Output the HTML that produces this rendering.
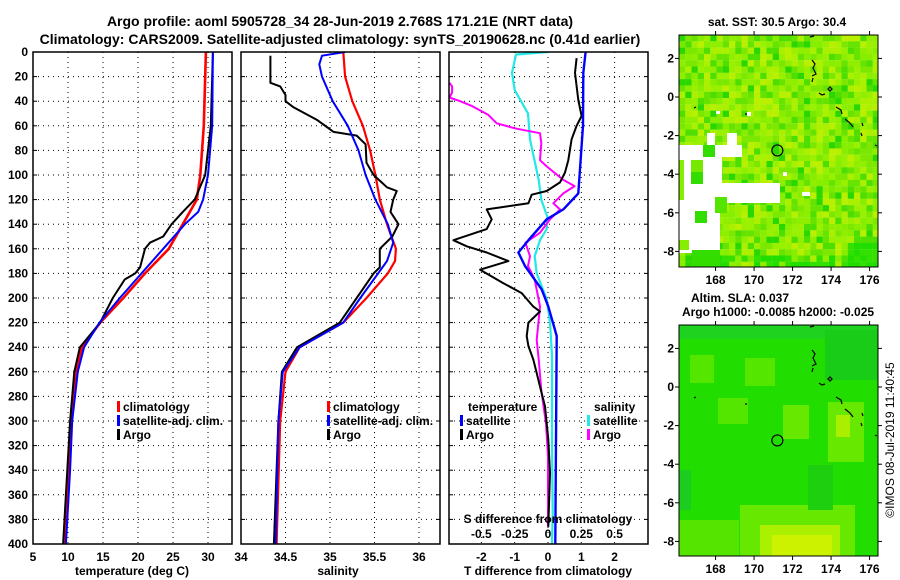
<!DOCTYPE html>
<html><head><meta charset="utf-8"><style>
body{margin:0;background:#fff;}
svg{display:block;font-family:"Liberation Sans",sans-serif;font-weight:bold;}
</style></head><body>
<svg id="fig" width="900" height="580" viewBox="0 0 900 580" xmlns="http://www.w3.org/2000/svg">
<defs>
<clipPath id="c1"><rect x="33" y="52" width="199" height="492"/></clipPath>
<clipPath id="c2"><rect x="241" y="52" width="199" height="492"/></clipPath>
<clipPath id="c3"><rect x="449" y="52" width="199" height="492"/></clipPath>
<clipPath id="m1"><rect x="679" y="35" width="199" height="232"/></clipPath>
<clipPath id="m2"><rect x="679" y="325" width="199" height="231"/></clipPath>
</defs>
<text x="340" y="26" font-size="14" text-anchor="middle">Argo profile: aoml 5905728_34 28-Jun-2019 2.768S 171.21E (NRT data)</text>
<text x="340" y="44" font-size="14" text-anchor="middle">Climatology: CARS2009. Satellite-adjusted climatology: synTS_20190628.nc (0.41d earlier)</text>
<g id="grid"></g>
<g id="lines"></g>
<g id="frames"></g>
<g id="labels" font-size="12"></g>
<g id="maps"></g>
<text x="777" y="26" font-size="12" text-anchor="middle">sat. SST: 30.5 Argo: 30.4</text>
<text x="740" y="302" font-size="12" text-anchor="middle">Altim. SLA: 0.037</text>
<text x="778" y="316" font-size="12" text-anchor="middle">Argo h1000: -0.0085 h2000: -0.025</text>
<text transform="translate(894,440) rotate(-90)" font-size="12" font-weight="normal" text-anchor="middle">©IMOS 08-Jul-2019 11:40:45</text>
</svg>
<script>
const depthTicks=[0,20,40,60,80,100,120,140,160,180,200,220,240,260,280,300,320,340,360,380,400];
const tempTicks=[5,10,15,20,25,30];
const salTicks=[34,34.5,35,35.5,36];
const tdiffTicks=[-2,-1,0,1,2];
const sdiffTicks=[-0.5,-0.25,0,0.25,0.5];
const sdiffLabels=["-0.5","-0.25","0","0.25","0.5"];

const tClimD=[0,60,100,120,140,160,180,200,220,240,260,280,300,340,400];
const tClimV=[29.7,29.4,28.9,28.4,26.4,24.4,21,17.9,14.6,12,11.1,10.7,10.4,10,9.6];
const tSatD=[0,60,100,120,130,140,160,180,200,220,240,260,300,340,400];
const tSatV=[30.7,30.6,30,29.3,28.6,26.7,23.6,20.5,17.4,14.5,12.3,11.4,10.6,10.3,9.7];
const tArgoD=[0,60,80,100,120,130,140,150,155,160,175,180,185,200,220,240,260,300,400];
const tArgoV=[30.7,30.4,30,29.6,28.1,26.4,24.8,23.6,21.7,21,20.3,19.6,18.1,16.4,14.6,11.7,10.9,10.3,9.3];

const sClimD=[0,20,40,60,80,100,120,140,160,170,180,200,220,240,260,300,400];
const sClimV=[35.15,35.17,35.25,35.37,35.45,35.51,35.56,35.64,35.74,35.73,35.65,35.41,35.15,34.66,34.5,34.44,34.4];
const sSatD=[0,3,10,20,40,60,80,100,120,140,155,170,180,200,220,240,260,300,400];
const sSatV=[35.17,34.91,34.88,34.91,35.03,35.2,35.32,35.4,35.51,35.65,35.71,35.64,35.54,35.34,35.15,34.66,34.47,34.42,34.39];
const sArgoD=[3,25,28,35,40,45,55,65,68,75,90,100,110,113,120,130,140,150,160,175,180,200,220,240,260,300,400];
const sArgoV=[34.33,34.33,34.44,34.5,34.5,34.59,34.85,35.04,35.3,35.4,35.41,35.49,35.64,35.75,35.71,35.68,35.77,35.7,35.56,35.56,35.49,35.3,35.11,34.63,34.46,34.42,34.37];

const dtSatD=[0,17,60,115,128,136,153,163,174,193,207,226,231,400];
const dtSatV=[1.13,1.06,1.05,0.91,0.46,-0.04,-0.59,-0.89,-0.69,-0.19,0.01,0.21,0.26,0.22];
const dtArgoD=[5,17,39,52,60,71,88,98,106,113,116,123,128,136,144,153,158,163,170,177,188,196,207,211,220,231,239,250,261,272,288,315,342,386];
const dtArgoV=[0.86,0.81,0.91,1.01,0.86,0.71,0.61,0.51,0.36,-0.04,-0.49,-0.59,-1.84,-1.69,-1.84,-2.84,-2.44,-1.84,-1.19,-2.04,-1.34,-0.79,-0.44,-0.24,-0.59,-0.64,-0.59,-0.44,-0.34,-0.24,-0.09,0.01,0.06,0.01];
const dsSatD=[0,2,17,31,50,71,104,120,134,144,153,166,180,201,220,247,315,375,400];
const dsSatV=[0.0,-0.24,-0.27,-0.25,-0.15,-0.135,-0.07,-0.05,-0.005,-0.01,-0.06,-0.1,-0.085,-0.01,0.015,0.03,0.03,0.035,0.03];
const dsArgoD=[25,28,33,37,40,44,51,58,62,66,74,88,93,104,109,115,123,128,136,147,155,166,174,185,207,234,250,275,302,329,386];
const dsArgoV=[-0.74,-0.72,-0.72,-0.74,-0.66,-0.57,-0.45,-0.385,-0.25,-0.06,-0.05,-0.06,-0.01,0.115,0.2,0.115,0.04,0.09,0.015,-0.06,-0.17,-0.135,-0.15,-0.1,-0.06,-0.085,-0.07,-0.05,-0.015,0,0];

const lonTicks=[168,170,172,174,176];
const latTicks=[2,0,-2,-4,-6,-8];
const argoLon=171.21, argoLat=-2.768;

const NS="http://www.w3.org/2000/svg";
function yD(d){return 52+d*1.23;}
function xT(t){return 33+(t-5)*7;}
function xS(s){return 241+(s-34)*89;}
function xDT(t){return 548+t*33.3;}
function xDS(s){return 548+s*133.2;}
function mk(tag,attrs,parent){const e=document.createElementNS(NS,tag);for(const k in attrs)e.setAttribute(k,attrs[k]);parent.appendChild(e);return e;}
const grid=document.getElementById('grid'),lines=document.getElementById('lines'),frames=document.getElementById('frames'),labels=document.getElementById('labels'),maps=document.getElementById('maps');

const panels=[{x0:33,clip:'c1',vx:tempTicks.slice(1).map(xT),nm:'temperature'},{x0:241,clip:'c2',vx:salTicks.slice(1).map(xS),nm:'salinity'},{x0:449,clip:'c3',vx:tdiffTicks.map(xDT),nm:'difference'}];
panels.forEach(p=>{
  depthTicks.slice(1,-1).forEach(d=>{
    const l=mk('line',{x1:p.x0,x2:p.x0+199,y1:yD(d),y2:yD(d),stroke:'#000','stroke-width':1,'stroke-dasharray':'1,4'},grid);
    
    
    [[p.x0,p.x0+4],[p.x0+195,p.x0+199]].forEach(a=>{const t=mk('line',{x1:a[0],x2:a[1],y1:yD(d),y2:yD(d),stroke:'#000'},grid);
      
      });
  });
  p.vx.forEach(x=>{
    const l=mk('line',{x1:x,x2:x,y1:52,y2:544,stroke:'#000','stroke-width':1,'stroke-dasharray':'1,4'},grid);
    
    
  });
  const f=mk('rect',{x:p.x0,y:52,width:199,height:492,fill:'none',stroke:'#000','stroke-width':1.5},frames);
  
  
});

function series(D,V,fx,color,w,clip,name){
  const pts=D.map((d,i)=>fx(V[i]).toFixed(1)+','+yD(d).toFixed(1)).join(' ');
  const pl=mk('polyline',{points:pts,fill:'none',stroke:color,'stroke-width':w,'stroke-linejoin':'round','clip-path':'url(#'+clip+')'},lines);
  
  
}
series(tClimD,tClimV,xT,'#f00',2.6,'c1','temp-climatology-line');
series(tArgoD,tArgoV,xT,'#000',2,'c1','temp-argo-line');
series(tSatD,tSatV,xT,'#00f',2,'c1','temp-satellite-line');
series(sClimD,sClimV,xS,'#f00',2.2,'c2','salinity-climatology-line');
series(sArgoD,sArgoV,xS,'#000',2,'c2','salinity-argo-line');
series(sSatD,sSatV,xS,'#00f',2,'c2','salinity-satellite-line');
series(dsSatD,dsSatV,xDS,'#22e8e8',2.2,'c3','sdiff-satellite-line');
series(dsArgoD,dsArgoV,xDS,'#f0f',2,'c3','sdiff-argo-line');
series(dtArgoD,dtArgoV,xDT,'#000',2,'c3','tdiff-argo-line');
series(dtSatD,dtSatV,xDT,'#00f',2.4,'c3','tdiff-satellite-line');

function txt(x,y,s,anchor,name,parent,size){
  const t=mk('text',{x:x,y:y,'text-anchor':anchor||'middle'},parent||labels);
  if(size)t.setAttribute('font-size',size);
  t.textContent=s;
  
  
  return t;
}
depthTicks.forEach(d=>txt(28,yD(d)+4,String(d),'end','depth-tick-label'));
tempTicks.forEach(t=>txt(xT(t),561,String(t),'middle','temp-tick-label'));
salTicks.forEach(s=>txt(xS(s),561,String(s),'middle','salinity-tick-label'));
tdiffTicks.forEach(t=>txt(xDT(t),561,String(t),'middle','tdiff-tick-label'));
sdiffTicks.forEach((s,i)=>txt(xDS(s),538,sdiffLabels[i],'middle','sdiff-tick-label'));
txt(132,575,'temperature (deg C)','middle','temperature-axis-title');
txt(338,575,'salinity','middle','salinity-axis-title');
txt(548,575,'T difference from climatology','middle','tdiff-axis-title');
txt(548,523,'S difference from climatology','middle','sdiff-axis-title');

function leg(x,y,color,label,name){
  const r=mk('rect',{x:x,y:y-10,width:3,height:11,fill:color},labels);
  
  
  txt(x+6,y,label,'start',name+'-label');
}
leg(117,411,'#f00','climatology','temp-legend-climatology');
leg(117,425,'#00f','satellite-adj. clim.','temp-legend-satellite');
leg(117,439,'#000','Argo','temp-legend-argo');
leg(327,411,'#f00','climatology','sal-legend-climatology');
leg(327,425,'#00f','satellite-adj. clim.','sal-legend-satellite');
leg(327,439,'#000','Argo','sal-legend-argo');
txt(468,411,'temperature','start','diff-legend-temperature-heading');
leg(460,425,'#00f','satellite','diff-legend-t-satellite');
leg(460,439,'#000','Argo','diff-legend-t-argo');
txt(594,411,'salinity','start','diff-legend-salinity-heading');
leg(587,425,'#22e8e8','satellite','diff-legend-s-satellite');
leg(587,439,'#f0f','Argo','diff-legend-s-argo');

// maps
function lonX(l){return 679+(l-166.1)*19.25;}
function latY(l,off){return 97+off-l*19.3;}
function hash(i,j,s){let h=(i*374761393+j*668265263+s*1442695041)|0;h=(h^(h>>>13))*1274126177|0;return ((h^(h>>>16))>>>0)/4294967296;}
const sstPal=['#88ee00','#99f000','#7ce800','#aaf000','#66e400','#b8f000','#4ede00','#90ee00'];
const g1=mk('g',{'clip-path':'url(#m1)'},maps);


for(let i=0;i<32;i++)for(let j=0;j<37;j++){
  let h=hash(i,j,1);
  let c=sstPal[Math.floor(h*sstPal.length)];
  if((i>26&&j>32)||(j>34&&hash(i,j,5)<0.6))c=hash(i,j,3)<0.5?'#22dd00':'#33e000';
  else if(hash(i,j,7)<0.07)c='#2ad800';
  mk('rect',{x:679+i*6.25,y:35+j*6.3,width:6.4,height:6.4,fill:c},g1);
}
[[679,145,63,12],[679,157,43,26],[679,183,101,20],[679,203,41,50],[707,133,8,12],[727,133,10,12],[802,192,8,4],[783,172,4,4],[747,112,4,4],[716,111,4,3]].forEach(r=>{
  const w=mk('rect',{x:r[0],y:r[1],width:r[2],height:r[3],fill:'#fff'},g1);
  
  
});
[[703,145,12,12,'#33dd00'],[691,160,12,12,'#77e800'],[691,172,12,12,'#33dd00'],[679,160,5,40,'#88ee00'],[695,211,12,12,'#33dd00'],[715,197,12,16,'#55e400'],[692,250,28,17,'#33dd00'],[679,240,10,10,'#88ee00']].forEach(r=>mk('rect',{x:r[0],y:r[1],width:r[2],height:r[3],fill:r[4]},g1));

const g2=mk('g',{'clip-path':'url(#m2)'},maps);


mk('rect',{x:679,y:325,width:199,height:231,fill:'#22dd00'},g2);
[[679,325,199,14,'#1fd21f'],[690,355,24,28,'#55e600'],[745,358,30,28,'#55e600'],[718,398,30,26,'#55e600'],[783,405,26,34,'#66e800'],[828,402,36,60,'#66e800'],[836,415,14,22,'#aaee00'],[679,470,12,40,'#1ccc20'],[740,505,115,51,'#66e800'],[760,525,80,31,'#aaf000'],[772,535,60,21,'#ccf200'],[679,520,60,36,'#55e400'],[808,465,25,45,'#1ecf10'],[825,330,53,50,'#18cc18']].forEach(r=>mk('rect',{x:r[0],y:r[1],width:r[2],height:r[3],fill:r[4]},g2));

[[0,'m1','sst'],[290,'m2','sla']].forEach(([off,clip,nm])=>{
  const top=off?325:35,bot=off?556:267;
  const cl=mk('path',{d:`M810 ${37+off} l4 -1 M812 ${60+off} l3 4 l-2 4 l3 6 l-4 2 M813 ${78+off} l-1 4 M819 ${93+off} l3 2 l3 -1 M828 ${89+off} l2 -2 l2 2 l-2 2 z M836 ${107+off} l5 3 l1 4 M845 ${119+off} l5 4 l3 4 M862 ${123+off} l1 3 M861 ${133+off} l1 3 M875 ${145+off} l2 1 M694 ${108+off} l2 -1 M745 ${114+off} l2 0`,fill:'none',stroke:'#000','stroke-width':1.2},maps);
  
  
  const c=mk('circle',{cx:lonX(argoLon),cy:latY(argoLat,off),r:5.5,fill:'none',stroke:'#000','stroke-width':1.2},maps);
  
  
  const fr=mk('rect',{x:679,y:top,width:199,height:bot-top,fill:'none',stroke:'#000','stroke-width':1},maps);
  
  
  lonTicks.forEach(l=>{
    mk('line',{x1:lonX(l),x2:lonX(l),y1:top-4,y2:top,stroke:'#000'},maps);
    mk('line',{x1:lonX(l),x2:lonX(l),y1:bot,y2:bot+4,stroke:'#000'},maps);
    txt(lonX(l),bot+17,String(l),'middle',nm+'-lon-label',maps,12);
  });
  latTicks.forEach(l=>{
    mk('line',{x1:675,x2:679,y1:latY(l,off),y2:latY(l,off),stroke:'#000'},maps);
    mk('line',{x1:878,x2:882,y1:latY(l,off),y2:latY(l,off),stroke:'#000'},maps);
    txt(674,latY(l,off)+4,String(l),'end',nm+'-lat-label',maps,12);
  });
});
</script>
</body></html>
